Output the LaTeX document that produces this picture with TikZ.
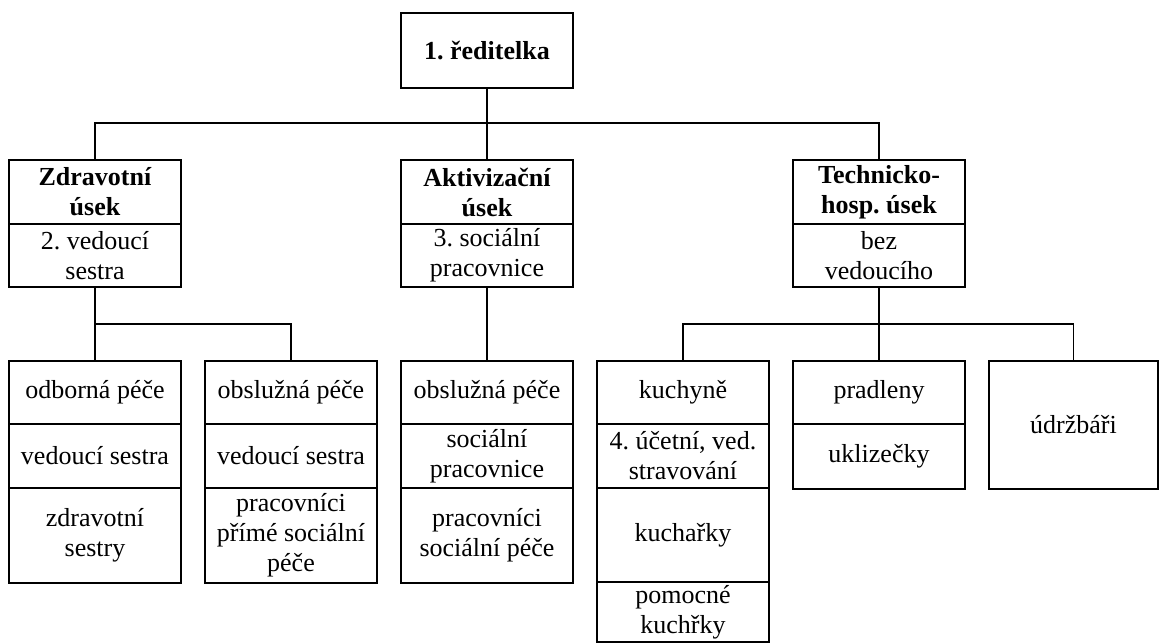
\documentclass[tikz,border=0pt]{standalone}
\usepackage{fontspec}
\setmainfont{Liberation Serif}
\frenchspacing
\begin{document}
\begin{tikzpicture}[x=1pt,y=-1pt,
  cell/.style={draw, line width=2.9pt, inner sep=0pt, text width=#1, minimum height=20pt, align=flush center,
     font=\fontsize{26}{30}\selectfont},
  cell/.default=172pt,
  head/.style={font=\fontsize{26}{30}\selectfont\bfseries},
  conn/.style={line width=1.4pt}]
\useasboundingbox (0,0) rectangle (1160,644);
% top
\node[cell, head, minimum height=75pt] (top) at (487,50.5) {1. ředitelka};
% section heads
\node[cell, head, minimum height=64pt] (zdH) at (95,192) {Zdravotní\\úsek};
\node[cell, minimum height=63pt] (zdB) at (95,255.5) {2. vedoucí\\sestra};
\node[cell, head, minimum height=64pt] (akH) at (487,192) {Aktivizační\\úsek};
\node[cell, minimum height=63pt] (akB) at (487,255.5) {3. sociální\\pracovnice};
\node[cell, head, minimum height=64pt] (thH) at (879,192) {Technicko-\\hosp. úsek};
\node[cell, minimum height=63pt] (thB) at (879,255.5) {bez\\vedoucího};
% column 1
\node[cell, minimum height=63pt] (c1a) at (95,392.5) {odborná péče};
\node[cell, minimum height=64pt] (c1b) at (95,456) {vedoucí sestra};
\node[cell, minimum height=95pt] (c1c) at (95,535.5) {zdravotní\\sestry};
% column 2
\node[cell, minimum height=63pt] (c2a) at (291,392.5) {obslužná péče};
\node[cell, minimum height=64pt] (c2b) at (291,456) {vedoucí sestra};
\node[cell, minimum height=95pt] (c2c) at (291,535.5) {pracovníci\\přímé sociální\\péče};
% column 3
\node[cell, minimum height=63pt] (c3a) at (487,392.5) {obslužná péče};
\node[cell, minimum height=64pt] (c3b) at (487,456) {sociální\\pracovnice};
\node[cell, minimum height=95pt] (c3c) at (487,535.5) {pracovníci\\sociální péče};
% column 4
\node[cell, minimum height=63pt] (c4a) at (683,392.5) {kuchyně};
\node[cell, minimum height=64pt] (c4b) at (683,456) {4. účetní, ved.\\stravování};
\node[cell, minimum height=94pt] (c4c) at (683,535) {kuchařky};
\node[cell, minimum height=60pt] (c4d) at (683,612) {pomocné\\kuchřky};
% column 5
\node[cell, minimum height=63pt] (c5a) at (879,392.5) {pradleny};
\node[cell, minimum height=65pt] (c5b) at (879,456.5) {uklizečky};
% column 6
\node[cell=169pt, minimum height=128pt] (c6) at (1073.5,425) {údržbáři};
% connectors
\coordinate (bus) at (487,123);
\coordinate (zbus) at (95,324);
\coordinate (tbus) at (879,324);
\draw[conn] (top.south) -- (akH.north);
\draw[conn] (zdH.north) |- (bus) -| (thH.north);
\draw[conn] (zdB.south) -- (c1a.north);
\draw[conn] (zbus) -| (c2a.north);
\draw[conn] (akB.south) -- (c3a.north);
\draw[conn] (thB.south) -- (c5a.north);
\draw[conn] (c4a.north) |- (tbus) -| (c6.north);
\end{tikzpicture}
\end{document}
